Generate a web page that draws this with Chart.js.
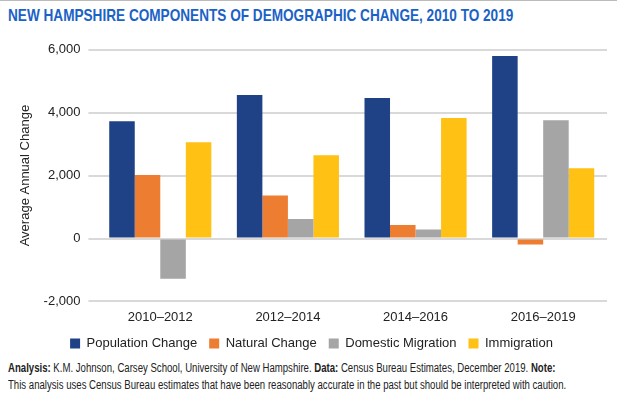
<!DOCTYPE html><html><head><meta charset="utf-8">
<script src="https://cdn.jsdelivr.net/npm/chart.js@4"></script>
<style>
body{margin:0;width:617px;height:402px;background:#fff;font-family:"Liberation Sans",Arial,sans-serif;position:relative;overflow:hidden}
#t{position:absolute;left:8px;top:6px;font-size:17px;font-weight:bold;color:#1a62c6;white-space:nowrap;transform:scaleX(0.8);transform-origin:0 0}
#topline{position:absolute;left:0;top:0;width:617px;height:1px;background:#bbb}
#c{position:absolute;left:0;top:34px;width:617px;height:326px}
#f{position:absolute;left:8px;top:360px;font-size:12px;line-height:17px;color:#222;white-space:nowrap;transform:scaleX(0.8);transform-origin:0 0}
</style></head><body>
<div id="topline"></div>
<div id="t">NEW HAMPSHIRE COMPONENTS OF DEMOGRAPHIC CHANGE, 2010 TO 2019</div>
<div id="c"><canvas id="cv"></canvas></div>
<div id="f"><b>Analysis:</b> K.M. Johnson, Carsey School, University of New Hampshire. <b>Data:</b> Census Bureau Estimates, December 2019. <b>Note:</b><br>This analysis uses Census Bureau estimates that have been reasonably accurate in the past but should be interpreted with caution.</div>
<script>
const categories=["2010–2012","2012–2014","2014–2016","2016–2019"];
const populationChange=[3730,4560,4470,5800];
const naturalChange=[2020,1370,430,-190];
const domesticMigration=[-1280,620,290,3760];
const immigration=[3060,2650,3830,2230];
const ds=(l,d,c)=>({label:l,data:d,backgroundColor:c,categoryPercentage:0.8,barPercentage:1});
Chart.defaults.font.family='"Liberation Sans",Arial,sans-serif';
Chart.defaults.color='#222';
new Chart(document.getElementById('cv'),{type:'bar',
data:{labels:categories,datasets:[ds('Population Change',populationChange,'#1f4287'),ds('Natural Change',naturalChange,'#ed7d31'),ds('Domestic Migration',domesticMigration,'#a5a5a5'),ds('Immigration',immigration,'#ffc114')]},
options:{responsive:true,maintainAspectRatio:false,animation:false,
layout:{padding:{left:16,right:10,top:6}},
plugins:{legend:{position:'bottom',labels:{boxWidth:10,boxHeight:10,font:{size:13},padding:12}},tooltip:{enabled:false}},
scales:{x:{grid:{display:false},border:{display:false},ticks:{font:{size:13},padding:0}},
y:{min:-2000,max:6000,ticks:{stepSize:2000,font:{size:13},padding:8,callback:v=>v.toLocaleString('en-US')},grid:{color:'#d9d9d9',lineWidth:2},border:{display:false},
title:{display:true,text:'Average Annual Change',font:{size:13},padding:2}}}}});
</script></body></html>
